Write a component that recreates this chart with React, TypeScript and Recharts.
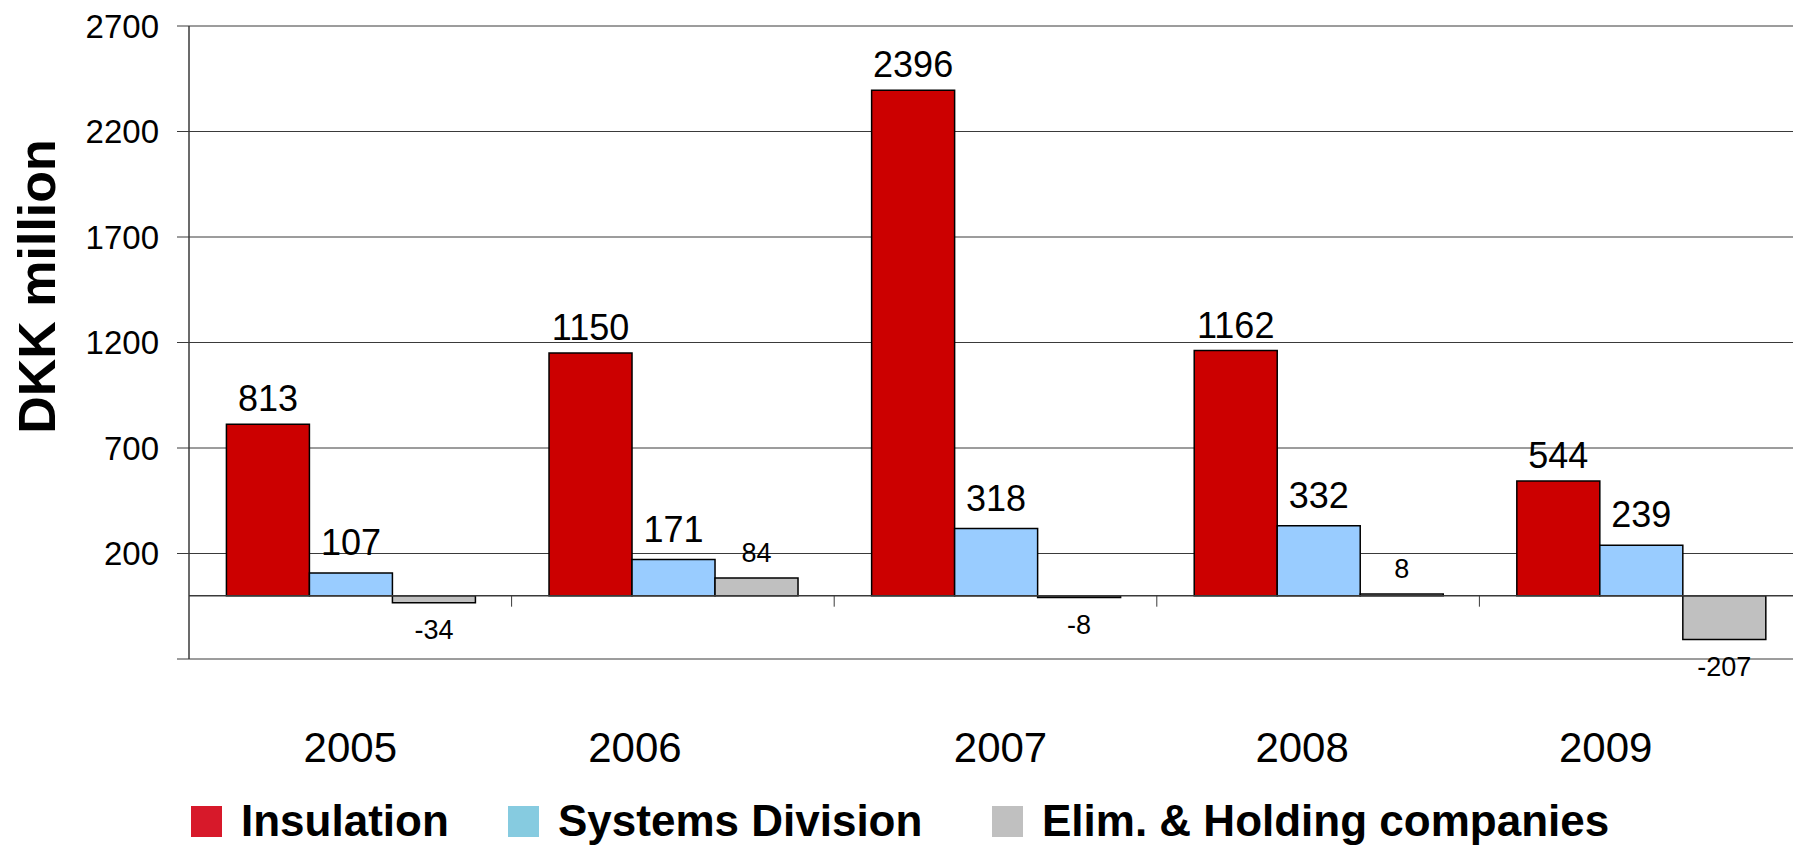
import React from 'react';
import {
  BarChart,
  Bar,
  XAxis,
  YAxis,
  CartesianGrid,
  ReferenceLine,
  LabelList,
  Legend,
  Label,
} from 'recharts';

// ---- data ----
const years = ['2005', '2006', '2007', '2008', '2009'];
const insulation = [813, 1150, 2396, 1162, 544];
const systemsDivision = [107, 171, 318, 332, 239];
const elimHolding = [-34, 84, -8, 8, -207];
const yTicks = [-300, 200, 700, 1200, 1700, 2200, 2700];
const seriesNames = ['Insulation', 'Systems Division', 'Elim. & Holding companies'];
// category boundary tick marks on the zero line sit at the start of these categories
const boundaryCategories = years.slice(1);

const data = years.map((year, i) => ({
  year,
  insulation: insulation[i],
  systems: systemsDivision[i],
  elim: elimHolding[i],
}));

// ---- style ----
const FONT = '"Liberation Sans", Arial, Helvetica, sans-serif';
const barColors = ['#CC0000', '#99CCFF', '#C0C0C0'];
const legendColors = ['#D7192A', '#86CBE0', '#C0C0C0'];
const legendLefts = [191, 508, 992];
// the original's year captions are nudged slightly off their category centres
const yearLabelNudge = [0, -38, 5, -16, -35];
const lineColor = '#3a3a3a';

const makeLabel = (fontSize: number, gapPos: number, gapNeg: number) => (props: any) => {
  const { x, y, width, height, value } = props;
  const top = Math.min(Number(y), Number(y) + Number(height));
  const bottom = Math.max(Number(y), Number(y) + Number(height));
  const cx = Number(x) + Number(width) / 2;
  const v = Number(value);
  const ty = v >= 0 ? top - gapPos : bottom + gapNeg + fontSize * 0.716;
  return (
    <text
      x={cx}
      y={ty}
      textAnchor="middle"
      fontSize={fontSize}
      fontFamily={FONT}
      fill="#000"
    >
      {value}
    </text>
  );
};

const insLabel = makeLabel(36, 13, 13);
const sysLabel = makeLabel(36, 18, 16);
const elimLabel = makeLabel(27, 16, 17);

const XTick = (props: any) => {
  const { x, y, payload, index } = props;
  const nudge = yearLabelNudge[index] || 0;
  return (
    <text
      x={x}
      y={y}
      dx={nudge}
      dy={88}
      textAnchor="middle"
      dominantBaseline="central"
      fontSize={42}
      fontFamily={FONT}
      fill="#000"
    >
      {payload.value}
    </text>
  );
};

const YLabel = (props: any) => {
  const vb = props.viewBox || { x: 0, y: 0, width: 0, height: 0 };
  const cx = vb.x + 55;
  const cy = vb.y + vb.height / 2 - 56;
  return (
    <text
      x={cx}
      y={cy}
      transform={`rotate(-90, ${cx}, ${cy})`}
      textAnchor="middle"
      fontSize={52}
      fontWeight="bold"
      fontFamily={FONT}
      fill="#000"
    >
      DKK million
    </text>
  );
};

const renderLegend = () => (
  <div style={{ position: 'relative', height: 50, width: '100%' }}>
    {seriesNames.map((name, i) => (
      <div
        key={name}
        style={{
          position: 'absolute',
          left: legendLefts[i],
          top: 0,
          height: 50,
          display: 'flex',
          alignItems: 'center',
          whiteSpace: 'nowrap',
        }}
      >
        <div style={{ width: 31, height: 31, background: legendColors[i], marginRight: 19 }} />
        <span
          style={{
            fontFamily: FONT,
            fontWeight: 'bold',
            fontSize: 44,
            color: '#000',
            lineHeight: '50px',
          }}
        >
          {name}
        </span>
      </div>
    ))}
  </div>
);

export default function App() {
  return (
    <div
      style={{
        position: 'absolute',
        left: 0,
        top: 0,
        width: 1793,
        height: 846,
        overflow: 'hidden',
        background: '#fff',
      }}
    >
      <BarChart
        width={1802}
        height={846}
        data={data}
        margin={{ top: 26, right: 0, bottom: 0, left: 0 }}
        barCategoryGap="11.6%"
        barGap={0}
      >
        <CartesianGrid vertical={false} stroke={lineColor} strokeWidth={1} />
        <XAxis
          dataKey="year"
          axisLine={false}
          tickLine={false}
          tickSize={0}
          tickMargin={0}
          height={137}
          interval={0}
          tick={<XTick />}
        />
        <YAxis
          type="number"
          domain={[-300, 2700]}
          ticks={yTicks}
          interval={0}
          width={189}
          tickSize={12}
          tickMargin={18}
          axisLine={{ stroke: lineColor, strokeWidth: 1.5 }}
          tickLine={{ stroke: lineColor, strokeWidth: 1 }}
          tick={{ fontSize: 33, fill: '#000', fontFamily: FONT }}
          tickFormatter={(v: number) => (v === -300 ? '' : String(v))}
        >
          <Label content={<YLabel />} />
        </YAxis>
        <ReferenceLine y={0} stroke={lineColor} strokeWidth={1.5} />
        {boundaryCategories.map((c) => (
          <ReferenceLine
            key={c}
            position="start"
            segment={[
              { x: c, y: 0 },
              { x: c, y: -52 },
            ]}
            stroke={lineColor}
            strokeWidth={1}
            ifOverflow="visible"
          />
        ))}
        <Bar
          dataKey="insulation"
          name={seriesNames[0]}
          fill={barColors[0]}
          stroke="#000"
          strokeWidth={1.5}
          isAnimationActive={false}
        >
          <LabelList dataKey="insulation" content={insLabel} />
        </Bar>
        <Bar
          dataKey="systems"
          name={seriesNames[1]}
          fill={barColors[1]}
          stroke="#000"
          strokeWidth={1.5}
          isAnimationActive={false}
        >
          <LabelList dataKey="systems" content={sysLabel} />
        </Bar>
        <Bar
          dataKey="elim"
          name={seriesNames[2]}
          fill={barColors[2]}
          stroke="#000"
          strokeWidth={1.5}
          isAnimationActive={false}
        >
          <LabelList dataKey="elim" content={elimLabel} />
        </Bar>
        <Legend verticalAlign="bottom" content={renderLegend} />
      </BarChart>
    </div>
  );
}
